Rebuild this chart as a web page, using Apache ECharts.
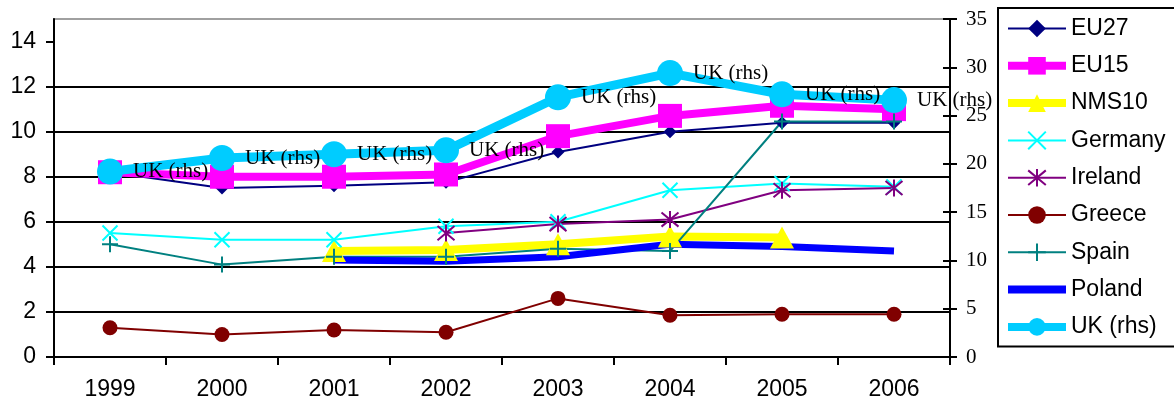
<!DOCTYPE html>
<html>
<head>
<meta charset="utf-8">
<script src="https://cdn.jsdelivr.net/npm/echarts@6/dist/echarts.min.js"></script>
<style>
  html, body { margin: 0; padding: 0; background: #fff; }
  #chart { width: 1174px; height: 405px; }
</style>
</head>
<body>
<div id="chart"></div>
<script>
// Years on the category axis
const years = ['1999', '2000', '2001', '2002', '2003', '2004', '2005', '2006'];

// Left-hand scale series (%)
const eu27    = [8.2, 7.5, 7.6, 7.75, 9.1, 10.0, 10.4, 10.4];
const eu15    = [8.2, 8.0, 8.0, 8.1, 9.8, 10.7, 11.15, 11.0];
const nms10   = [null, null, 4.7, 4.75, 5.0, 5.35, 5.3, null];
const germany = [5.5, 5.2, 5.2, 5.8, 6.0, 7.4, 7.7, 7.55];
const ireland = [null, null, null, 5.5, 5.9, 6.1, 7.4, 7.5];
const greece  = [1.3, 1.0, 1.2, 1.1, 2.6, 1.85, 1.9, 1.9];
const spain   = [5.0, 4.1, 4.45, 4.45, 4.8, 4.7, 10.45, 10.45];
const poland  = [null, null, 4.3, 4.25, 4.45, 5.0, 4.9, 4.7];

// Right-hand scale series
const uk      = [19.2, 20.6, 21.0, 21.4, 26.9, 29.4, 27.2, 26.6];

// Tick values shown on the left axis
const leftTicks = [0, 2, 4, 6, 8, 10, 12, 14];

const SANS = 'Arial, "Liberation Sans", sans-serif';
const SERIF = '"Times New Roman", "Liberation Serif", serif';

const crossPath = 'path://M0,0L10,10M10,0L0,10';
const starPath = 'path://M0,0L10,10M10,0L0,10M5,-1L5,11';
const plusPath = 'path://M5,0L5,10M0,5L10,5';

function thinLine(name, data, color, symbol, size, stroked) {
  return {
    name, type: 'line', data, yAxisIndex: 0,
    symbol, symbolSize: size, showSymbol: true,
    lineStyle: { color, width: 2 },
    itemStyle: stroked
      ? { color, borderColor: color, borderWidth: 2 }
      : { color, borderColor: color, borderWidth: 0 },
    emphasis: { disabled: true }
  };
}

const chart = echarts.init(document.getElementById('chart'), null, { renderer: 'canvas' });

chart.setOption({
  backgroundColor: '#fff',
  animation: false,
  grid: {
    left: 54, right: 224, top: 19, bottom: 48,
    show: true, borderColor: '#a0a0a0', borderWidth: 2, backgroundColor: 'transparent'
  },
  legend: {
    orient: 'vertical',
    left: 998, top: 8,
    padding: [9, 14, 8, 6],
    itemWidth: 58, itemHeight: 22, itemGap: 14.3,
    borderColor: '#000', borderWidth: 2,
    backgroundColor: '#fff',
    textStyle: { fontFamily: SANS, fontSize: 23, color: '#000', lineHeight: 22 },
    data: [
      { name: 'EU27', lineStyle: { width: 2 } },
      { name: 'EU15', lineStyle: { width: 8 } },
      { name: 'NMS10', lineStyle: { width: 8 } },
      { name: 'Germany', lineStyle: { width: 2 } },
      { name: 'Ireland', lineStyle: { width: 2 } },
      { name: 'Greece', lineStyle: { width: 2 } },
      { name: 'Spain', lineStyle: { width: 2 } },
      { name: 'Poland', lineStyle: { width: 8 }, itemStyle: { opacity: 0 } },
      { name: 'UK (rhs)', lineStyle: { width: 8 } }
    ]
  },
  xAxis: {
    type: 'category', data: years, boundaryGap: true,
    axisLine: { lineStyle: { color: '#000', width: 2 } },
    axisTick: { show: true, interval: 0, length: 8, lineStyle: { color: '#000', width: 2 } },
    axisLabel: { fontFamily: SANS, fontSize: 23, color: '#000', margin: 21, interval: 0 },
    splitLine: { show: false }
  },
  yAxis: [
    {
      type: 'value', position: 'left', min: 0, max: 15, interval: 2,
      axisLine: { show: true, lineStyle: { color: '#000', width: 2 } },
      axisTick: { show: true, length: 8, customValues: leftTicks, lineStyle: { color: '#000', width: 2 } },
      axisLabel: { fontFamily: SANS, fontSize: 23, color: '#000', margin: 18, customValues: leftTicks },
      splitLine: { show: true, showMaxLine: false, lineStyle: { color: '#000', width: 2 } }
    },
    {
      type: 'value', position: 'right', min: 0, max: 35, interval: 5,
      axisLine: { show: true, lineStyle: { color: '#000', width: 2 } },
      axisTick: { show: true, length: 7, lineStyle: { color: '#000', width: 2 } },
      axisLabel: { fontFamily: SERIF, fontSize: 21, color: '#000', margin: 16 },
      splitLine: { show: false }
    },
    {
      // inward half of the right-hand tick marks
      type: 'value', position: 'right', min: 0, max: 35, interval: 5,
      axisLine: { show: false },
      axisTick: { show: true, inside: true, length: 7, lineStyle: { color: '#000', width: 2 } },
      axisLabel: { show: false },
      splitLine: { show: false }
    }
  ],
  series: [
    thinLine('EU27', eu27, '#000080', 'diamond', 13, false),
    {
      name: 'EU15', type: 'line', data: eu15, yAxisIndex: 0,
      symbol: 'rect', symbolSize: 24,
      lineStyle: { color: '#FF00FF', width: 8 },
      itemStyle: { color: '#FF00FF' },
      emphasis: { disabled: true }
    },
    {
      name: 'NMS10', type: 'line', data: nms10, yAxisIndex: 0,
      symbol: 'triangle', symbolSize: [24, 22],
      lineStyle: { color: '#FFFF00', width: 8 },
      itemStyle: { color: '#FFFF00' },
      emphasis: { disabled: true }
    },
    thinLine('Germany', germany, '#00FFFF', crossPath, 15, true),
    thinLine('Ireland', ireland, '#800080', starPath, 17, true),
    thinLine('Greece', greece, '#800000', 'circle', 15, false),
    thinLine('Spain', spain, '#008080', plusPath, 16, true),
    {
      name: 'Poland', type: 'line', data: poland, yAxisIndex: 0,
      symbol: 'none', showSymbol: false,
      lineStyle: { color: '#0000FF', width: 7 },
      itemStyle: { color: '#0000FF' },
      emphasis: { disabled: true }
    },
    {
      name: 'UK (rhs)', type: 'line', data: uk, yAxisIndex: 1,
      symbol: 'circle', symbolSize: 26,
      lineStyle: { color: '#00CCFF', width: 9 },
      itemStyle: { color: '#00CCFF' },
      label: {
        show: true, position: 'right', distance: 10,
        formatter: '{a}',
        fontFamily: SERIF, fontSize: 21, color: '#000'
      },
      labelLayout: { hideOverlap: false },
      emphasis: { disabled: true }
    }
  ]
});
</script>
</body>
</html>
